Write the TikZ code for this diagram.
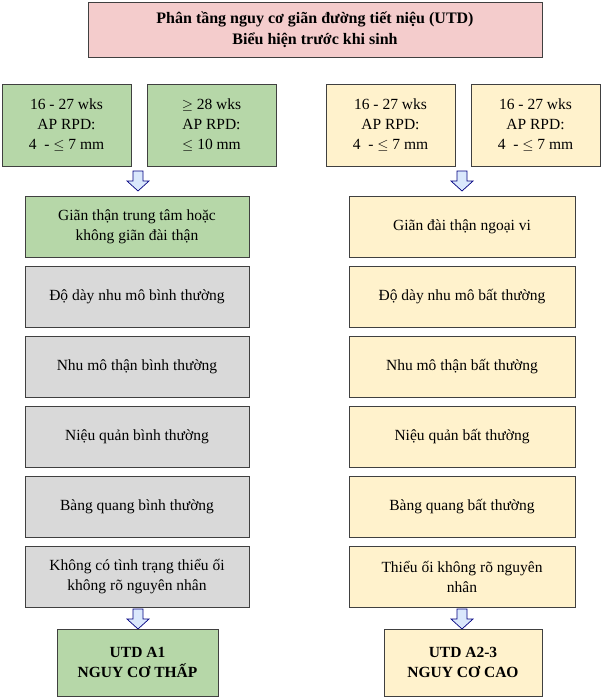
\documentclass[tikz,border=0pt]{standalone}
\usepackage{fontspec}
\setmainfont{Liberation Serif}
\begin{document}
\begin{tikzpicture}[x=1pt,y=-1pt,
  box/.style={draw=black!75, line width=0.8pt, align=center, inner sep=2pt, font=\fontsize{15.5}{20}\selectfont},
  gbox/.style={box, fill=green!25!gray!40!white, fill=gfill},
  ybox/.style={box, fill=yfill},
  ebox/.style={box, fill=efill},
  darr/.style={draw=blue!50!black, fill=afill, line width=0.7pt}]
\definecolor{gfill}{HTML}{B6D7A8}
\definecolor{yfill}{HTML}{FFF2CC}
\definecolor{efill}{HTML}{D9D9D9}
\definecolor{pfill}{HTML}{F4CCCC}
\definecolor{afill}{HTML}{DAE8FC}
\useasboundingbox (0,0) rectangle (601,698);
\newcommand{\bx}[7]{\node[#1, minimum width=#4-#2, minimum height=#5-#3] (#6) at ({(#2+#4)/2},{(#3+#5)/2}) {#7};}
\newcommand{\darrow}[3]{\draw[darr] (#1-5,#2) -- (#1+5,#2) -- (#1+5,#2+10) -- (#1+11,#2+10) -- (#1,#3) -- (#1-11,#2+10) -- (#1-5,#2+10) -- cycle;}
\bx{box,fill=pfill,font=\bfseries\fontsize{16}{21}\selectfont}{88}{2}{542}{57}{title}{Phân tầng nguy cơ giãn đường tiết niệu (UTD)\\Biểu hiện trước khi sinh}
\bx{gbox}{2}{84}{131}{166}{l1}{16 - 27 wks\\AP RPD:\\4\ \ - $\le$ 7 mm}
\bx{gbox}{147}{84}{276}{166}{l2}{$\ge$ 28 wks\\AP RPD:\\$\le$ 10 mm}
\bx{ybox}{326}{84}{455}{166}{r1}{16 - 27 wks\\AP RPD:\\4\ \ - $\le$ 7 mm}
\bx{ybox}{471}{84}{600}{166}{r2}{16 - 27 wks\\AP RPD:\\4\ \ - $\le$ 7 mm}
\darrow{138}{171}{191}
\darrow{462}{171}{191}
\bx{gbox}{25}{196}{249}{257}{a1}{Giãn thận trung tâm hoặc\\không giãn đài thận}
\bx{ebox}{25}{266}{249}{327}{a2}{Độ dày nhu mô bình thường}
\bx{ebox}{25}{336}{249}{397}{a3}{Nhu mô thận bình thường}
\bx{ebox}{25}{406}{249}{467}{a4}{Niệu quản bình thường}
\bx{ebox}{25}{476}{249}{537}{a5}{Bàng quang bình thường}
\bx{ebox}{25}{546}{249}{607}{a6}{Không có tình trạng thiểu ối\\không rõ nguyên nhân}
\bx{ybox}{349}{196}{575}{257}{b1}{Giãn đài thận ngoại vi}
\bx{ybox}{349}{266}{575}{327}{b2}{Độ dày nhu mô bất thường}
\bx{ybox}{349}{336}{575}{397}{b3}{Nhu mô thận bất thường}
\bx{ybox}{349}{406}{575}{467}{b4}{Niệu quản bất thường}
\bx{ybox}{349}{476}{575}{537}{b5}{Bàng quang bất thường}
\bx{ybox}{349}{546}{575}{607}{b6}{Thiểu ối không rõ nguyên\\nhân}
\darrow{138}{609}{629}
\darrow{462}{609}{629}
\bx{gbox,font=\bfseries\fontsize{15.5}{20}\selectfont}{57}{629}{218}{696}{c1}{UTD A1\\NGUY CƠ THẤP}
\bx{ybox,font=\bfseries\fontsize{15.5}{20}\selectfont}{384}{629}{542}{696}{c2}{UTD A2-3\\NGUY CƠ CAO}
\end{tikzpicture}
\end{document}
